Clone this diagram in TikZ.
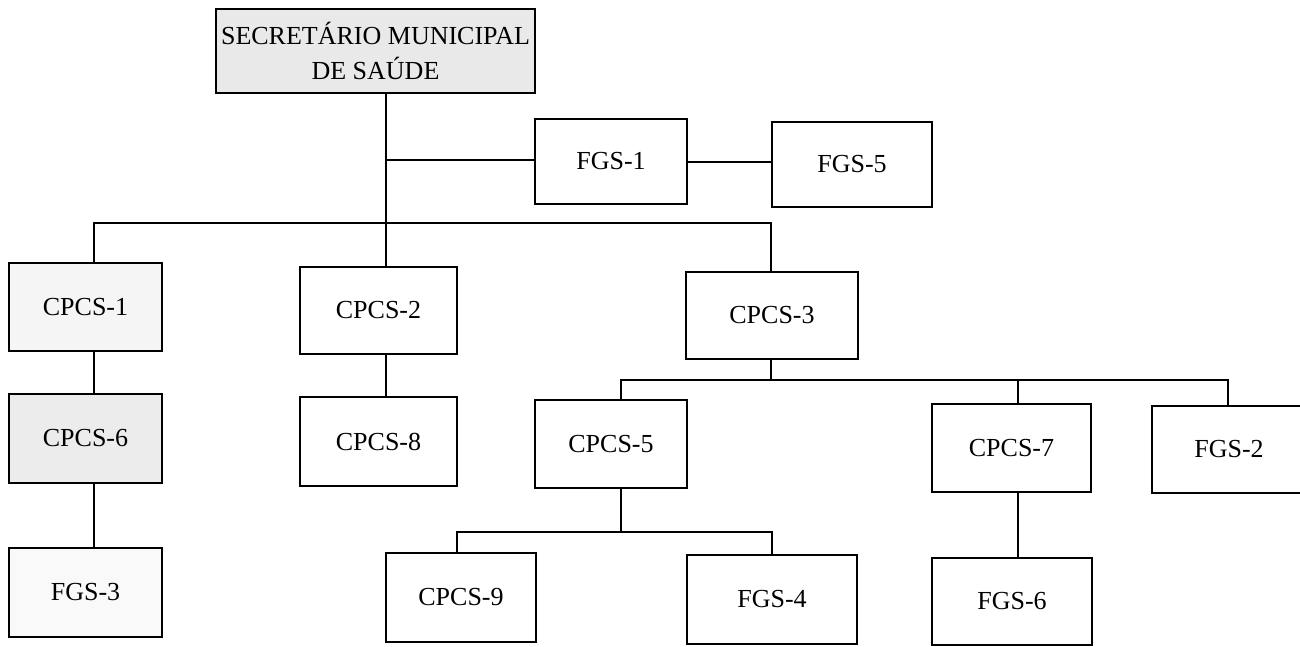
\documentclass[tikz,border=0pt]{standalone}
\usepackage{fontspec}
\setmainfont{Liberation Serif}
\begin{document}
\begin{tikzpicture}[x=1pt,y=-1pt,
  box/.style={draw, line width=1.6pt, inner sep=0pt, align=center,
    font=\fontsize{26}{35}\selectfont},
  conn/.style={line width=1.6pt, line join=miter}]
\useasboundingbox (0,0) rectangle (1300,646);
% boxes
\node[box, fill=gray!17, minimum width=319pt, minimum height=84pt] (top) at (375.5,51) {SECRETÁRIO MUNICIPAL\\DE SAÚDE};
\node[box, minimum width=152pt, minimum height=85pt] (fgs1) at (611,161.5) {FGS-1};
\node[box, minimum width=160pt, minimum height=85pt] (fgs5) at (852,164.5) {FGS-5};
\node[box, fill=gray!8, minimum width=153pt, minimum height=88pt] (cpcs1) at (85.5,307) {CPCS-1};
\node[box, minimum width=157pt, minimum height=87pt] (cpcs2) at (378.5,310.5) {CPCS-2};
\node[box, minimum width=172pt, minimum height=87pt] (cpcs3) at (772,315.5) {CPCS-3};
\node[box, fill=gray!15, minimum width=153pt, minimum height=89pt] (cpcs6) at (85.5,438.5) {CPCS-6};
\node[box, minimum width=157pt, minimum height=89pt] (cpcs8) at (378.5,441.5) {CPCS-8};
\node[box, minimum width=152pt, minimum height=88pt] (cpcs5) at (611,444) {CPCS-5};
\node[box, minimum width=159pt, minimum height=88pt] (cpcs7) at (1011.5,448) {CPCS-7};
\node[box, minimum width=154pt, minimum height=87pt] (fgs2) at (1229,449.5) {FGS-2};
\node[box, fill=gray!5, minimum width=153pt, minimum height=89pt] (fgs3) at (85.5,592.5) {FGS-3};
\node[box, minimum width=150pt, minimum height=89pt] (cpcs9) at (461,597.5) {CPCS-9};
\node[box, minimum width=170pt, minimum height=89pt] (fgs4) at (772,599.5) {FGS-4};
\node[box, minimum width=160pt, minimum height=87pt] (fgs6) at (1012,601.5) {FGS-6};
% junction coordinates
\coordinate (j0) at (386,223);
\coordinate (j1) at (386,160);
\coordinate (f1) at (687,162);
\coordinate (b1L) at (94,223);
\coordinate (b1R) at (771,223);
\coordinate (b2) at (771,380);
\coordinate (b2L) at (621,380);
\coordinate (b2M) at (1018,380);
\coordinate (b2R) at (1228,380);
\coordinate (b3) at (621,532);
\coordinate (b3L) at (457,532);
\coordinate (b3R) at (772,532);
\coordinate (c7) at (1018,532);
% connectors
\draw[conn] (top.south -| j0) -- (j0);
\draw[conn] (j1) -- (j1 -| fgs1.west);
\draw[conn] (fgs1.east |- f1) -- (f1 -| fgs5.west);
\draw[conn] (cpcs1.north -| b1L) -- (b1L) -- (b1R) -- (cpcs3.north -| b1R);
\draw[conn] (j0) -- (cpcs2.north -| j0);
\draw[conn] (cpcs1.south -| b1L) -- (cpcs6.north -| b1L);
\draw[conn] (cpcs6.south -| b1L) -- (fgs3.north -| b1L);
\draw[conn] (cpcs2.south -| j0) -- (cpcs8.north -| j0);
\draw[conn] (cpcs3.south -| b2) -- (b2);
\draw[conn] (cpcs5.north -| b2L) -- (b2L) -- (b2R) -- (fgs2.north -| b2R);
\draw[conn] (b2M) -- (cpcs7.north -| b2M);
\draw[conn] (cpcs5.south -| b3) -- (b3);
\draw[conn] (cpcs9.north -| b3L) -- (b3L) -- (b3R) -- (fgs4.north -| b3R);
\draw[conn] (cpcs7.south -| c7) -- (fgs6.north -| c7);
\end{tikzpicture}
\end{document}
